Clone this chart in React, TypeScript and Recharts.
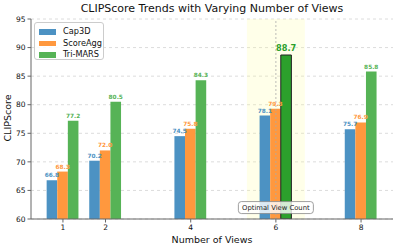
import React from 'react';
import {
  BarChart, Bar, XAxis, YAxis, CartesianGrid, ReferenceArea, ReferenceLine,
  ReferenceDot, LabelList, Cell, Label,
} from 'recharts';

// values
const views = [1, 2, 4, 6, 8];
const cap3d = [66.8, 70.2, 74.5, 78.1, 75.7];
const scoreAgg = [68.3, 72.0, 75.8, 79.3, 76.9];
const triMars = [77.2, 80.5, 84.3, 88.7, 85.8];
const yTicks = [60, 65, 70, 75, 80, 85, 90, 95];
const bestView = 6;

const data = views.map((v, i) => ({
  views: v,
  cap3d: cap3d[i],
  scoreAgg: scoreAgg[i],
  triMars: triMars[i],
}));

const FONT = 'DejaVu Sans';
const BLUE = '#4c92c3';
const ORANGE = '#ff983e';
const GREEN = '#56b356';
const GREEN_HI = '#2ca02c';

const series = [
  { key: 'cap3d', name: 'Cap3D', color: BLUE },
  { key: 'scoreAgg', name: 'ScoreAgg', color: ORANGE },
  { key: 'triMars', name: 'Tri-MARS', color: GREEN },
];

const makeLabel = (color: string, highlight: boolean) => (props: any) => {
  const { x, y, width, value, index } = props;
  const hi = highlight && views[index] === bestView;
  return (
    <text
      x={Number(x) + Number(width) / 2}
      y={Number(y) - (hi ? 4 : 3)}
      textAnchor="middle"
      fontFamily={FONT}
      fontWeight="bold"
      fontSize={hi ? 8.2 : 5.8}
      fill={hi ? GREEN_HI : color}
    >
      {Number(value).toFixed(1)}
    </text>
  );
};

const OptimalBox = (props: any) => {
  const { cx, cy } = props;
  const w = 75;
  const h = 12;
  return (
    <g>
      <rect x={cx - w / 2} y={cy - h / 2} width={w} height={h} rx={3} fill="#ffffff" fillOpacity={0.8} stroke="#888" strokeWidth={0.8} />
      <text x={cx} y={cy + 2.4} textAnchor="middle" fontFamily={FONT} fontSize={6.8} fill="#222">
        Optimal View Count
      </text>
    </g>
  );
};

const App: React.FC = () => {
  return (
    <div style={{ position: 'absolute', left: 0, top: 0, width: 397, height: 248, background: '#fff', fontFamily: FONT }}>
      <div style={{ position: 'absolute', left: 0, top: 2, width: 424, textAlign: 'center', fontSize: 11, color: '#111' }}>
        CLIPScore Trends with Varying Number of Views
      </div>
      <div
        style={{
          position: 'absolute', left: 8, top: 118, width: 80, marginLeft: -40, marginTop: -6, height: 12,
          lineHeight: '12px', textAlign: 'center', fontSize: 9.5, color: '#111', transform: 'rotate(-90deg)',
        }}
      >
        CLIPScore
      </div>
      <BarChart
        width={397}
        height={248}
        data={data}
        margin={{ top: 19, right: 4, left: 0, bottom: 0 }}
        barGap={0}
        barSize={10.6}
      >
        <CartesianGrid horizontal vertical={false} stroke="#dcdcdc" strokeDasharray="3 3" />
        <ReferenceArea x1={5.32} x2={6.68} fill="#ffff99" fillOpacity={0.22} stroke="none" />
        <ReferenceLine x={bestView} stroke="#aaa" strokeDasharray="2 2" strokeWidth={0.8} />
        <XAxis
          dataKey="views"
          type="number"
          domain={[0.25, 8.75]}
          ticks={views}
          allowDataOverflow
          height={29}
          tickSize={3.5}
          stroke="#666"
          tick={{ fill: '#111', fontSize: 7.5, fontFamily: FONT }}
        >
          <Label value="Number of Views" position="insideBottom" offset={5} style={{ fill: '#111', fontSize: 9.5, fontFamily: FONT }} />
        </XAxis>
        <XAxis xAxisId="top" orientation="top" type="number" domain={[0.25, 8.75]} height={0} tick={false} tickLine={false} stroke="#666" />
        <YAxis
          domain={[60, 95]}
          ticks={yTicks}
          allowDataOverflow
          width={31}
          tickSize={3.5}
          stroke="#666"
          tick={{ fill: '#111', fontSize: 7.5, fontFamily: FONT }}
        />
        <YAxis yAxisId="right" orientation="right" domain={[60, 95]} width={0} tick={false} tickLine={false} stroke="#666" />
        {series.map((s) => (
          <Bar key={s.key} dataKey={s.key} name={s.name} fill={s.color} isAnimationActive={false}>
            {s.key === 'triMars' &&
              views.map((v) => (
                <Cell
                  key={v}
                  fill={v === bestView ? GREEN_HI : GREEN}
                  stroke={v === bestView ? '#222' : 'none'}
                  strokeWidth={v === bestView ? 1 : 0}
                />
              ))}
            <LabelList dataKey={s.key} content={makeLabel(s.color, s.key === 'triMars')} />
          </Bar>
        ))}
        <ReferenceDot x={bestView} y={62} r={0} shape={OptimalBox} />
      </BarChart>
      <div
        style={{
          position: 'absolute', left: 34, top: 22, width: 70, height: 38, boxSizing: 'border-box',
          border: '1px solid #ccc', borderRadius: 3, background: 'rgba(255,255,255,0.85)',
          padding: '3px 0 0 4px', fontSize: 8.2, color: '#111', lineHeight: '11.5px',
        }}
      >
        {series.map((s) => (
          <div key={s.key} style={{ display: 'flex', alignItems: 'center' }}>
            <span style={{ display: 'inline-block', width: 17, height: 5.5, background: s.color, marginRight: 7 }} />
            {s.name}
          </div>
        ))}
      </div>
    </div>
  );
};

export default App;
